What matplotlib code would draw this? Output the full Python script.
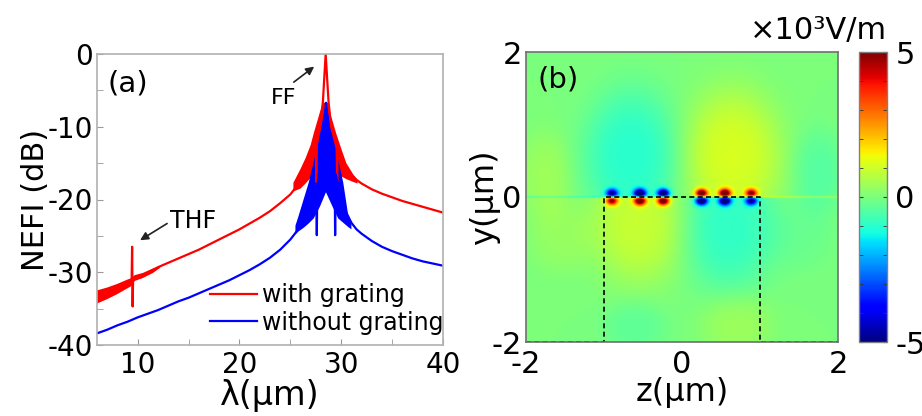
import numpy as np
import matplotlib
matplotlib.use('Agg')
import matplotlib.pyplot as plt
from matplotlib.ticker import MultipleLocator

plt.rcParams['font.family'] = ['DejaVu Sans']
plt.rcParams['axes.unicode_minus'] = False

# ---------------- Panel (a) data ----------------
red_lam = [6.0, 7.0, 8.0, 9.0, 9.4, 9.45, 9.5, 9.55, 9.6, 10.0, 11.0, 12.0, 13.0, 14.0, 15.0,
           16.0, 17.0, 18.0, 19.0, 20.0, 21.0, 22.0, 23.0, 24.0, 25.0, 25.5, 26.0, 26.5, 27.0,
           27.5, 27.55, 27.6, 28.0, 28.2, 28.47, 28.75, 29.0, 29.55, 29.6, 29.65, 30.0, 30.5,
           31.0, 31.5, 32.0, 33.0, 34.0, 35.0, 36.0, 37.0, 38.0, 39.0, 40.0]
red_db = [-33.4, -32.9, -32.3, -31.6, -31.4, -26.5, -34.7, -30.9, -30.9, -30.8, -30.0, -29.3,
          -28.7, -28.1, -27.5, -26.9, -26.2, -25.5, -24.8, -24.1, -23.3, -22.5, -21.6, -20.5,
          -19.3, -18.4, -17.2, -16.0, -14.6, -12.6, -17.6, -12.4, -9.5, -6.5, 0.0, -6.5, -10.0,
          -12.9, -17.6, -13.0, -14.6, -15.8, -16.6, -17.3, -17.8, -18.6, -19.2, -19.7, -20.2,
          -20.6, -21.0, -21.4, -21.8]

red_noise_lam = [6.0, 7.0, 8.0, 9.0, 9.4, 9.7, 10.5, 11.5, 12.2]
red_noise_hi = [-32.5, -32.1, -31.6, -31.0, -30.8, -30.4, -30.1, -29.5, -29.2]
red_noise_lo = [-34.3, -33.7, -33.0, -32.2, -31.9, -31.2, -30.8, -30.1, -29.4]

red_band_lam = [25.3, 26.0, 26.5, 27.0, 27.3, 27.8, 28.17, 28.73, 29.0, 29.5, 30.0, 30.5,
                31.2, 31.6]
red_band_hi = [-17.7, -15.8, -14.3, -12.5, -10.9, -8.5, -6.7, -6.7, -8.5, -10.9, -13.0,
               -15.0, -16.6, -17.3]
red_band_lo = [-18.9, -18.5, -17.8, -17.0, -16.4, -15.0, -14.0, -14.0, -15.0, -16.0,
               -16.8, -17.2, -17.6, -17.8]

blue_lam = [6.0, 7.0, 8.0, 9.0, 10.0, 11.0, 12.0, 13.0, 14.0, 15.0, 16.0, 17.0, 18.0, 19.0,
            20.0, 21.0, 22.0, 23.0, 24.0, 25.0, 25.5, 26.0, 26.5, 27.0, 27.55, 27.6, 27.65,
            28.0, 28.5, 29.0, 29.35, 29.4, 29.45, 30.0, 30.5, 31.0, 31.5, 32.0, 33.0, 34.0,
            35.0, 36.0, 37.0, 38.0, 39.0, 40.0]
blue_db = [-38.4, -37.9, -37.3, -36.8, -36.2, -35.7, -35.2, -34.6, -34.0, -33.5, -32.9, -32.3,
           -31.7, -31.1, -30.4, -29.7, -28.9, -28.0, -26.9, -25.5, -24.6, -23.6, -22.3, -20.7,
           -18.0, -24.9, -18.0, -14.5, -6.7, -14.0, -16.0, -24.9, -16.5, -20.0, -21.8, -23.2,
           -24.1, -24.7, -25.7, -26.5, -27.1, -27.6, -28.1, -28.5, -28.8, -29.1]

blue_band_lam = [25.5, 25.8, 26.3, 26.8, 27.3, 27.9, 28.5, 29.15, 29.7, 30.2, 30.7, 31.0]
blue_band_hi = [-23.6, -22.3, -20.0, -17.7, -14.8, -10.9, -6.7, -10.9, -14.5, -17.7,
                -22.3, -23.0]
blue_band_lo = [-24.8, -24.4, -23.9, -23.3, -22.6, -21.0, -19.0, -21.0, -22.6, -23.2,
                -23.8, -24.1]

xticks_a = [10, 20, 30, 40]
yticks_a = [0, -10, -20, -30, -40]

# ---------------- Panel (b) data ----------------
hot_z = [-0.90, -0.54, -0.24, 0.25, 0.55, 0.89]
hot_amp = [-0.8, -1.0, -1.0, 1.0, 1.0, 0.8]       # sign/strength of field just above y=0

# broad field lobes: centre, amplitude (x10^3 V/m), widths, half-plane (1 above, -1 below, 0 both)
lobe_z = [-0.65, 0.65, -0.55, 0.60, -1.75, 1.75, -1.55, 1.55, -0.60, 0.70]
lobe_y = [0.55, 0.55, -0.35, -0.40, 0.30, 0.35, -0.55, -0.55, -1.80, -1.75]
lobe_a = [-1.0, 1.1, 0.9, -0.9, 0.4, -0.45, 0.3, -0.2, -0.35, 0.4]
lobe_sz = [0.62, 0.64, 0.62, 0.62, 0.34, 0.34, 0.42, 0.42, 0.42, 0.46]
lobe_sy = [0.95, 0.95, 0.85, 0.90, 0.60, 0.60, 0.50, 0.50, 0.38, 0.42]
lobe_half = [1, 1, -1, -1, 0, 0, 0, 0, 0, 0]

edge_amp = [-0.8, 0.8]     # thin line along y=0 outside the ridge (left, right)

rect_z = [-2, -1, -1, 1, 1, 2]
rect_y = [-2, -2, 0, 0, -2, -2]

cbar_ticks = [-5, 0, 5]

# ---------------- Figure ----------------
W, H = 922, 416
fig = plt.figure(figsize=(W / 100, H / 100), dpi=100)

def box(l, t, r, b):
    return [l / W, 1 - b / H, (r - l) / W, (b - t) / H]

ax = fig.add_axes(box(97, 54, 443, 345))
ax.fill_between(red_noise_lam, red_noise_lo, red_noise_hi, facecolor='#ff0000',
                edgecolor='none', lw=0)
ax.fill_between(red_band_lam, red_band_lo, red_band_hi, facecolor='#ff0000',
                edgecolor='none', lw=0)
ax.plot(red_lam, red_db, color='#ff0000', lw=1.6, label='with grating')
ax.fill_between(blue_band_lam, blue_band_lo, blue_band_hi, facecolor='#0000ff',
                edgecolor='none', lw=0)
ax.plot(blue_lam, blue_db, color='#0000ff', lw=1.6, label='without grating')
ax.set_xlim(6, 40)
ax.set_ylim(-40, 0)
ax.set_xticks(xticks_a)
ax.set_yticks(yticks_a)
ax.xaxis.set_minor_locator(MultipleLocator(5))
ax.yaxis.set_minor_locator(MultipleLocator(5))
ax.tick_params(which='both', direction='in', color='#999999', length=4, labelsize=20)
ax.tick_params(axis='x', pad=4)
ax.tick_params(axis='y', pad=3)
for s in ax.spines.values():
    s.set_color('#b0b0b0')
    s.set_linewidth(1.2)
ax.set_xlabel('λ(μm)', fontsize=24, labelpad=0)
ax.set_ylabel('NEFI (dB)', fontsize=22, labelpad=-2)
ax.text(7.0, -4.1, '(a)', fontsize=21, ha='left', va='center')
ax.annotate('', xy=(27.56, -1.5), xytext=(25.12, -4.1),
            arrowprops=dict(arrowstyle='-|>', color='#222222', lw=1.2, mutation_scale=12))
ax.text(24.34, -6.0, 'FF', fontsize=16, ha='center', va='center')
ax.annotate('', xy=(10.0, -25.8), xytext=(13.12, -23.1),
            arrowprops=dict(arrowstyle='-|>', color='#222222', lw=1.2, mutation_scale=12))
ax.text(13.2, -22.9, 'THF', fontsize=17, ha='left', va='center')
ax.legend(loc='upper left', bbox_to_anchor=((210 - 97) / 346, (345 - 283) / 291),
          frameon=False, fontsize=17, handlelength=2.0, handletextpad=0.2,
          labelspacing=0.15, borderpad=0, borderaxespad=0)

# Panel (b)
axb = fig.add_axes(box(526, 52, 838, 342))
z = np.linspace(-2, 2, 600)
y = np.linspace(-2, 2, 600)
Z, Y = np.meshgrid(z, y)
F = np.zeros_like(Z)
for z0, y0, a, sz, sy, hf in zip(lobe_z, lobe_y, lobe_a, lobe_sz, lobe_sy, lobe_half):
    d = np.sqrt(((Z - z0) / sz) ** 2 + ((Y - y0) / sy) ** 2)
    g = a * np.exp(-d ** 3)
    if hf == 1:
        g = g * (Y >= 0)
    elif hf == -1:
        g = g * (Y < 0)
    F += g
s = 0.075
for zh, a in zip(hot_z, hot_amp):
    F += a * 13 * (Y / s) * np.exp(-((Z - zh) ** 2 + Y ** 2) / s ** 2)
F += np.where(Z < -1.05, edge_amp[0], 0) * np.exp(-(Y / 0.012) ** 2)
F += np.where(Z > 1.05, edge_amp[1], 0) * np.exp(-(Y / 0.012) ** 2)
im = axb.imshow(F, extent=[-2, 2, -2, 2], origin='lower', cmap='jet', vmin=-5, vmax=5,
                aspect='auto', interpolation='bilinear')
axb.plot(rect_z, rect_y, color='black', lw=1.2, ls=(0, (3, 2)))
axb.set_xlim(-2, 2)
axb.set_ylim(-2, 2)
axb.set_xticks([-2, 0, 2])
axb.set_yticks([-2, 0, 2])
axb.tick_params(length=0, labelsize=22)
axb.tick_params(axis='x', pad=6)
axb.tick_params(axis='y', pad=3)
for sp in axb.spines.values():
    sp.set_color('#707070')
    sp.set_linewidth(1.2)
axb.set_xlabel('z(μm)', fontsize=23, labelpad=-2)
axb.set_ylabel('y(μm)', fontsize=23, labelpad=-6)
axb.text(-1.85, 1.62, '(b)', fontsize=21, ha='left', va='center')

cax = fig.add_axes(box(859, 52, 887, 342))
cb = fig.colorbar(im, cax=cax, ticks=cbar_ticks)
cb.ax.yaxis.set_minor_locator(MultipleLocator(1))
cb.ax.tick_params(which='both', direction='in', length=3, color='#333333', left=True,
                  right=True, labelsize=22, pad=6)
cb.outline.set_edgecolor('#808080')
cb.outline.set_linewidth(1.0)
fig.text(887 / W, 1 - 31 / H, '×10³V/m', fontsize=22, ha='right', va='center')

fig.savefig('out.png', dpi=100)
